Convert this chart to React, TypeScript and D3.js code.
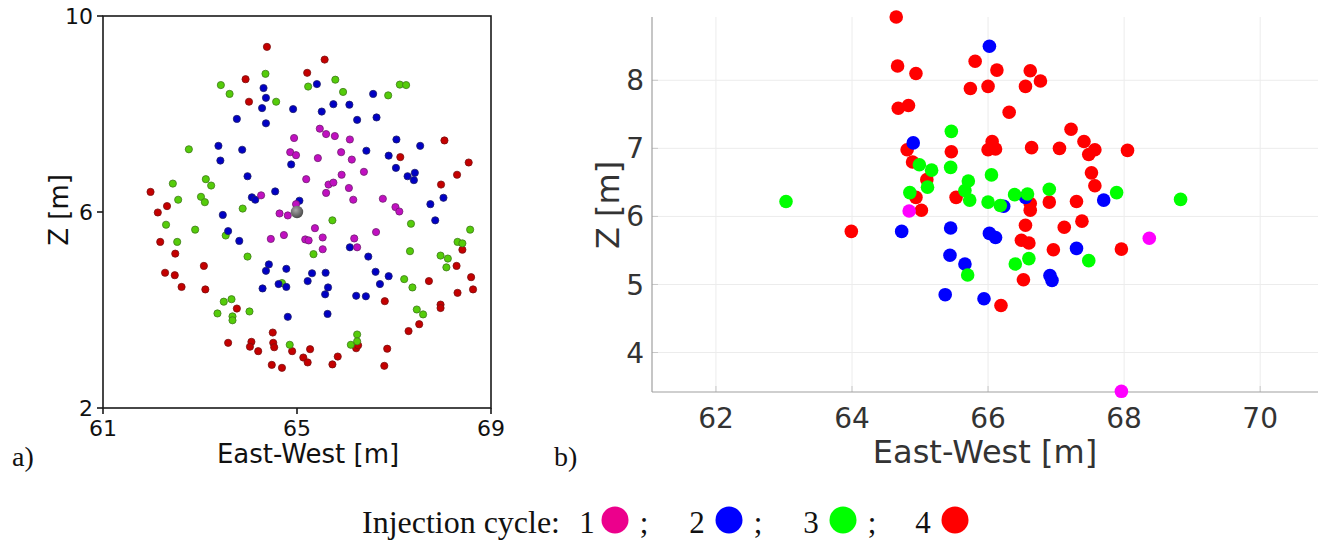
import React from "react";
import * as d3 from "d3";

// panel a) : all events, East-West vs Z, one array of [x, z] per injection cycle
const panelACycle1: [number, number][] = [
  [65.47, 7.7], [65.6, 7.59], [65.78, 7.55], [64.94, 7.51], [66.09, 7.48], [64.86, 7.22],
  [64.98, 7.16], [65.43, 7.1], [65.91, 7.22], [66.13, 7.07], [66.38, 6.82], [65.92, 6.76],
  [65.19, 6.67], [65.65, 6.56], [65.75, 6.6], [65.6, 6.39], [66.07, 6.49], [66.77, 6.27],
  [64.26, 6.34], [66.16, 6.25], [64.98, 6.16], [64.64, 5.97], [64.81, 5.93], [67.03, 6.1],
  [67.11, 6.01], [65.37, 5.67], [66.63, 5.59], [64.73, 5.53], [64.46, 5.45], [65.17, 5.44],
  [65.24, 5.42], [65.53, 5.48], [66.18, 5.46], [66.24, 5.28], [65.53, 5.24],
];
const panelACycle2: [number, number][] = [
  [65.41, 8.61], [64.31, 8.53], [64.36, 8.33], [64.28, 8.12], [64.92, 8.1], [65.51, 8.05],
  [65.75, 8.2], [66.08, 8.19], [66.57, 8.41], [66.24, 7.88], [66.64, 7.93], [63.76, 7.9],
  [64.36, 7.81], [63.38, 7.35], [63.87, 7.27], [63.42, 7.05], [64.88, 6.97], [63.98, 6.73],
  [67.05, 7.48], [67.54, 7.35], [66.43, 7.25], [66.89, 7.15], [67.04, 6.9], [67.28, 6.73],
  [67.43, 6.8], [67.41, 6.65], [64.55, 6.42], [64.07, 6.3], [64.14, 6.25], [65.05, 6.23],
  [68.02, 6.29], [63.47, 5.94], [63.58, 5.61], [63.81, 5.41], [67.75, 6.16], [67.85, 5.83],
  [66.09, 5.28], [66.47, 5.09], [64.42, 4.93], [64.36, 4.8], [64.78, 4.84], [65.31, 4.75],
  [65.59, 4.76], [65.22, 4.59], [64.62, 4.53], [64.78, 4.47], [64.29, 4.44], [65.64, 4.46],
  [65.58, 4.32], [66.62, 4.78], [66.89, 4.69], [66.71, 4.53], [66.22, 4.29], [66.42, 4.28],
  [64.81, 3.86], [65.63, 3.92],
];
const panelACycle3: [number, number][] = [
  [64.35, 8.82], [63.43, 8.59], [63.61, 8.41], [65.23, 8.56], [65.79, 8.7], [65.95, 8.45],
  [64.57, 8.25], [66.88, 8.38], [67.12, 8.6], [67.25, 8.59], [62.77, 7.28], [62.44, 6.58],
  [63.12, 6.67], [63.23, 6.54], [62.55, 6.25], [63.02, 6.31], [63.1, 6.2], [63.88, 6.07],
  [62.3, 5.74], [62.9, 5.64], [62.53, 5.39], [63.53, 5.52], [63.98, 5.09], [65.73, 5.83],
  [65.34, 5.14], [67.35, 5.76], [67.33, 5.2], [67.96, 5.11], [68.11, 5.05], [68.08, 4.87],
  [68.31, 5.39], [68.41, 5.36], [68.57, 5.64], [67.21, 4.63], [67.38, 4.46], [63.49, 4.17],
  [63.65, 4.22], [63.36, 3.93], [64.02, 3.97], [63.67, 3.87], [63.67, 3.79], [64.69, 4.55],
  [64.85, 3.29], [66.11, 3.29], [66.24, 3.5], [66.24, 3.36], [67.47, 4.01], [67.6, 3.91],
];
const panelACycle4: [number, number][] = [
  [64.38, 9.37], [65.57, 9.11], [65.21, 8.84], [63.94, 8.71], [64.01, 8.25], [68.04, 7.46],
  [67.13, 7.12], [68.54, 7.01], [68.3, 6.76], [67.97, 6.56], [61.98, 6.41], [62.32, 6.12],
  [62.13, 5.99], [62.18, 5.39], [62.49, 5.15], [63.08, 4.9], [62.28, 4.76], [62.48, 4.71],
  [62.62, 4.47], [63.11, 4.42], [63.76, 4.03], [63.58, 3.33], [64.06, 3.35], [64.03, 3.25],
  [64.2, 3.16], [64.5, 3.54], [64.51, 3.33], [64.53, 3.24], [64.9, 3.16], [64.48, 2.88],
  [64.69, 2.82], [65.13, 3.03], [65.22, 2.93], [65.27, 3.2], [65.73, 2.89], [65.84, 3.05],
  [66.22, 3.22], [66.26, 3.28], [66.86, 3.21], [66.8, 2.86], [66.81, 4.18], [67.3, 3.57],
  [67.52, 3.71], [67.72, 4.59], [67.96, 4.11], [67.96, 4.04], [68.29, 4.9], [68.31, 4.35],
  [68.59, 4.67], [68.63, 4.42], [68.41, 5.23],
];
const injectionPoint: [number, number] = [65, 6];

// panel b)
const panelBCycle1: [number, number][] = [[64.84, 6.08], [68.37, 5.68], [67.96, 3.43]];
const panelBCycle2: [number, number][] = [
  [64.9, 7.08], [66.02, 8.5], [64.73, 5.78], [66.23, 6.15], [66.55, 6.28], [67.7, 6.24],
  [67.3, 5.53], [65.45, 5.83], [66.02, 5.75], [66.11, 5.69], [65.44, 5.43], [65.66, 5.3],
  [66.91, 5.13], [66.94, 5.06], [65.37, 4.85], [65.94, 4.79],
];
const panelBCycle3: [number, number][] = [
  [63.03, 6.22], [64.99, 6.76], [65.17, 6.68], [65.11, 6.43], [64.85, 6.35], [65.46, 7.25],
  [65.45, 6.72], [66.05, 6.61], [65.71, 6.52], [65.66, 6.38], [65.73, 6.24], [66.0, 6.21],
  [66.18, 6.16], [66.39, 6.32], [66.58, 6.33], [66.9, 6.4], [67.89, 6.35], [68.83, 6.25],
  [65.7, 5.14], [66.4, 5.3], [66.6, 5.38], [67.48, 5.35],
];
const panelBCycle4: [number, number][] = [
  [64.65, 8.93], [64.67, 8.21], [64.94, 8.1], [64.68, 7.59], [64.83, 7.63], [64.81, 6.98],
  [64.89, 6.8], [65.1, 6.54], [64.94, 6.28], [65.02, 6.09], [63.99, 5.78], [65.46, 6.95],
  [65.81, 8.28], [66.13, 8.15], [66.62, 8.14], [66.77, 7.99], [65.74, 7.88], [66.0, 7.91],
  [66.55, 7.91], [66.31, 7.53], [67.22, 7.28], [67.41, 7.1], [67.57, 6.98], [67.48, 6.91],
  [68.05, 6.97], [67.05, 7.0], [66.64, 7.01], [66.06, 7.1], [66.0, 6.98], [66.11, 6.99],
  [67.52, 6.64], [67.57, 6.45], [65.53, 6.28], [66.62, 6.19], [66.62, 6.09], [66.9, 6.21],
  [67.3, 6.22], [67.38, 5.93], [67.12, 5.84], [66.55, 5.87], [66.49, 5.65], [66.6, 5.61],
  [66.96, 5.51], [67.96, 5.52], [66.52, 5.07], [66.19, 4.69],
];

const panelATicksX = [61, 65, 69];
const panelATicksZ = [2, 6, 10];
const panelBTicksX = [62, 64, 66, 68, 70];
const panelBTicksZ = [4, 5, 6, 7, 8];
const legendCycles = ["1", "2", "3", "4"];

const SANS = "'DejaVu Sans', sans-serif";
const SERIF = "'Liberation Serif', 'DejaVu Serif', serif";

function PanelA() {
  const x = d3.scaleLinear().domain([61, 69]).range([103, 491]);
  const y = d3.scaleLinear().domain([2, 10]).range([408, 16]);
  const series = [
    { data: panelACycle4, fill: "#c40000", stroke: "#7a1010" },
    { data: panelACycle3, fill: "#55cc0a", stroke: "#3f7a1a" },
    { data: panelACycle2, fill: "#0000c4", stroke: "#20206a" },
    { data: panelACycle1, fill: "#c010c0", stroke: "#702070" },
  ];
  return (
    <g>
      <defs>
        <radialGradient id="ball" cx="40%" cy="35%" r="65%">
          <stop offset="0%" stopColor="#a8a8a8" />
          <stop offset="100%" stopColor="#4a4a4a" />
        </radialGradient>
      </defs>
      <rect x={103} y={16} width={388} height={392} fill="#fff" stroke="#1a1a1a" strokeWidth={1.6} />
      {panelATicksX.map((t) => (
        <g key={"ax" + t}>
          <line x1={x(t)} x2={x(t)} y1={408} y2={414} stroke="#1a1a1a" strokeWidth={1.6} />
          <text x={x(t)} y={436} textAnchor="middle" fontSize={22} fontFamily={SANS} fill="#111">{t}</text>
        </g>
      ))}
      {panelATicksZ.map((t) => (
        <g key={"az" + t}>
          <line x1={97} x2={103} y1={y(t)} y2={y(t)} stroke="#1a1a1a" strokeWidth={1.6} />
          <text x={93} y={y(t)} dy="0.36em" textAnchor="end" fontSize={22} fontFamily={SANS} fill="#111">{t}</text>
        </g>
      ))}
      <text x={308} y={463} textAnchor="middle" fontSize={26} fontFamily={SANS} fill="#111">East-West [m]</text>
      <text transform={`translate(68, 210) rotate(-90)`} textAnchor="middle" fontSize={26} fontFamily={SANS} fill="#111">Z [m]</text>
      {series.map((s, i) => (
        <g key={"as" + i}>
          {s.data.map((d, j) => (
            <circle key={j} cx={x(d[0])} cy={y(d[1])} r={3.6} fill={s.fill} stroke={s.stroke} strokeWidth={0.8} />
          ))}
        </g>
      ))}
      <circle cx={x(injectionPoint[0])} cy={y(injectionPoint[1])} r={6.2} fill="url(#ball)" />
    </g>
  );
}

function PanelB() {
  const x = d3.scaleLinear().domain([61.06, 70.85]).range([652, 1318]);
  const y = d3.scaleLinear().domain([3.42, 8.93]).range([392, 17]);
  const series = [
    { data: panelBCycle4, fill: "#ff0000" },
    { data: panelBCycle2, fill: "#0000ff" },
    { data: panelBCycle3, fill: "#00ff00" },
    { data: panelBCycle1, fill: "#ff00ff" },
  ];
  return (
    <g>
      {panelBTicksX.map((t) => (
        <line key={"gx" + t} x1={x(t)} x2={x(t)} y1={17} y2={392} stroke="#ececec" strokeWidth={1} />
      ))}
      {panelBTicksZ.map((t) => (
        <line key={"gz" + t} x1={652} x2={1318} y1={y(t)} y2={y(t)} stroke="#ececec" strokeWidth={1} />
      ))}
      {panelBTicksX.map((t) => (
        <line key={"kx" + t} x1={x(t)} x2={x(t)} y1={386} y2={392} stroke="#c8c8c8" strokeWidth={1} />
      ))}
      {panelBTicksZ.map((t) => (
        <line key={"kz" + t} x1={652} x2={658} y1={y(t)} y2={y(t)} stroke="#c8c8c8" strokeWidth={1} />
      ))}
      <line x1={652} x2={652} y1={17} y2={392} stroke="#a0a0a0" strokeWidth={1.2} />
      <line x1={652} x2={1318} y1={392} y2={392} stroke="#a0a0a0" strokeWidth={1.2} />
      {panelBTicksX.map((t) => (
        <text key={"tx" + t} x={x(t)} y={428} textAnchor="middle" fontSize={28} fontFamily={SANS} fill="#333">{t}</text>
      ))}
      {panelBTicksZ.map((t) => (
        <text key={"tz" + t} x={644} y={y(t)} dy="0.36em" textAnchor="end" fontSize={28} fontFamily={SANS} fill="#333">{t}</text>
      ))}
      <text x={985} y={463} textAnchor="middle" fontSize={32} fontFamily={SANS} fill="#333">East-West [m]</text>
      <text transform={`translate(619, 205) rotate(-90)`} textAnchor="middle" fontSize={32} fontFamily={SANS} fill="#333">Z [m]</text>
      {series.map((s, i) => (
        <g key={"bs" + i}>
          {s.data.map((d, j) => (
            <circle key={j} cx={x(d[0])} cy={y(d[1])} r={6.8} fill={s.fill} />
          ))}
        </g>
      ))}
    </g>
  );
}

function Legend() {
  const colors = ["#ec008c", "#0000ff", "#00ff00", "#ff0000"];
  const numX = [587, 697, 811, 923];
  const dotX = [615, 729, 843, 955];
  return (
    <g fontFamily={SERIF} fontSize={31} fill="#111">
      <text x={362} y={533} textLength={198} lengthAdjust="spacingAndGlyphs">Injection cycle:</text>
      {legendCycles.map((c, i) => (
        <g key={c}>
          <text x={numX[i]} y={533} textAnchor="middle">{c}</text>
          <ellipse cx={dotX[i]} cy={520} rx={13.5} ry={13.5} fill={colors[i]} />
          {i < 3 && <text x={dotX[i] + 29} y={533} textAnchor="middle">;</text>}
        </g>
      ))}
    </g>
  );
}

export default function App() {
  return (
    <div style={{ position: "absolute", left: 0, top: 0 }}>
      <svg width={1318} height={544} style={{ display: "block", background: "#fff" }}>
        <PanelA />
        <PanelB />
        <text x={12} y={466} fontFamily={SERIF} fontSize={28} fill="#111">a)</text>
        <text x={554} y={466} fontFamily={SERIF} fontSize={28} fill="#111">b)</text>
        <Legend />
      </svg>
    </div>
  );
}
